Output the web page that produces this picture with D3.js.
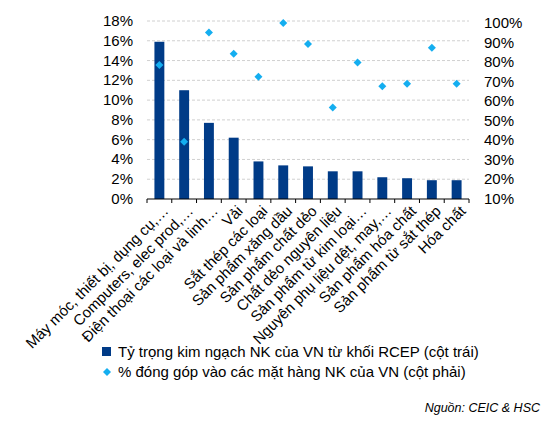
<!DOCTYPE html>
<html><head><meta charset="utf-8">
<script src="https://cdn.jsdelivr.net/npm/d3@7"></script>
<style>body{margin:0;background:#fff;font-family:"Liberation Sans",Arial,sans-serif}</style>
</head><body><svg id="c" width="556" height="423"></svg>
<script>
const categories = ["Máy móc, thiết bị, dụng cụ,…","Computers, elec prod,…","Điện thoại các loại và linh…","Vải","Sắt thép các loại","Sản phẩm xăng dầu","Sản phẩm chất dẻo","Chất dẻo nguyên liệu","Sản phẩm từ kim loại…","Nguyên phụ liệu dệt, may,…","Sản phẩm hóa chất","Sản phẩm từ sắt thép","Hóa chất"];
const shareRCEP = [15.9, 11.0, 7.7, 6.2, 3.8, 3.4, 3.3, 2.8, 2.8, 2.2, 2.1, 1.9, 1.9];
const contrib = [78.5, 39.3, 95.2, 84.3, 72.5, 100, 89.2, 56.8, 79.8, 67.6, 68.9, 87.3, 68.9];
const leftTicks = [0,2,4,6,8,10,12,14,16,18];
const rightTicks = [10,20,30,40,50,60,70,80,90,100];

const svg = d3.select("#c");
const x = d3.scaleBand().domain(categories).range([147, 469]).paddingInner(0.6).paddingOuter(0.3);
const yL = d3.scaleLinear().domain([0, 18]).range([199, 21]);
const yR = d3.scaleLinear().domain([10, 100]).range([199, 23]);
const diamond = "M0,-4L4,0L0,4L-4,0Z";

// gridlines
svg.append("g").selectAll("line").data(leftTicks.slice(1)).join("line")
  .attr("x1", 147).attr("x2", 469).attr("y1", d => yL(d)).attr("y2", d => yL(d))
  .attr("stroke", "#d0d0d0").attr("stroke-dasharray", "3,2");

svg.append("g").selectAll("rect").data(shareRCEP).join("rect")
  .attr("x", (d, i) => x(categories[i])).attr("width", x.bandwidth())
  .attr("y", d => yL(d)).attr("height", d => yL(0) - yL(d)).attr("fill", "#003b87");

svg.append("g").selectAll("path").data(contrib).join("path")
  .attr("d", diamond)
  .attr("transform", (d, i) => `translate(${x(categories[i]) + x.bandwidth() / 2},${yR(d)})`)
  .attr("fill", "#14aef0");

const ax = svg.append("g").attr("transform", "translate(0,199)");
ax.append("line").attr("x1", 147).attr("x2", 469).attr("stroke", "#000");
ax.selectAll(".tk").data(d3.range(categories.length + 1)).join("line")
  .attr("x1", i => 147 + i * 322 / categories.length).attr("x2", i => 147 + i * 322 / categories.length)
  .attr("y1", 0).attr("y2", 4).attr("stroke", "#000");
ax.selectAll("text").data(categories).join("text")
  .attr("transform", d => `translate(${x(d) + x.bandwidth() / 2 + 10},13) rotate(-45)`)
  .attr("text-anchor", "end").attr("font-size", 15).attr("fill", "#000").text(d => d);

svg.append("g").selectAll("text").data(leftTicks).join("text")
  .attr("x", 133).attr("y", d => yL(d) + 5).attr("text-anchor", "end")
  .attr("font-size", 15).text(d => d + "%");
svg.append("g").selectAll("text").data(rightTicks).join("text")
  .attr("x", 484).attr("y", d => yR(d) + 5)
  .attr("font-size", 15).text(d => d + "%");

const lg = svg.append("g");
lg.append("rect").attr("x", 102).attr("y", 347).attr("width", 9).attr("height", 9).attr("fill", "#003b87");
lg.append("text").attr("x", 118).attr("y", 357).attr("font-size", 15).text("Tỷ trọng kim ngạch NK của VN từ khối RCEP (cột trái)");
lg.append("path").attr("d", diamond).attr("transform", "translate(107,372)").attr("fill", "#14aef0");
lg.append("text").attr("x", 118).attr("y", 377).attr("font-size", 15).text("% đóng góp vào các mặt hàng NK của VN (cột phải)");
svg.append("text").attr("x", 540).attr("y", 412).attr("text-anchor", "end")
  .attr("font-size", 12.5).attr("font-style", "italic").text("Nguồn: CEIC & HSC");
</script></body></html>
